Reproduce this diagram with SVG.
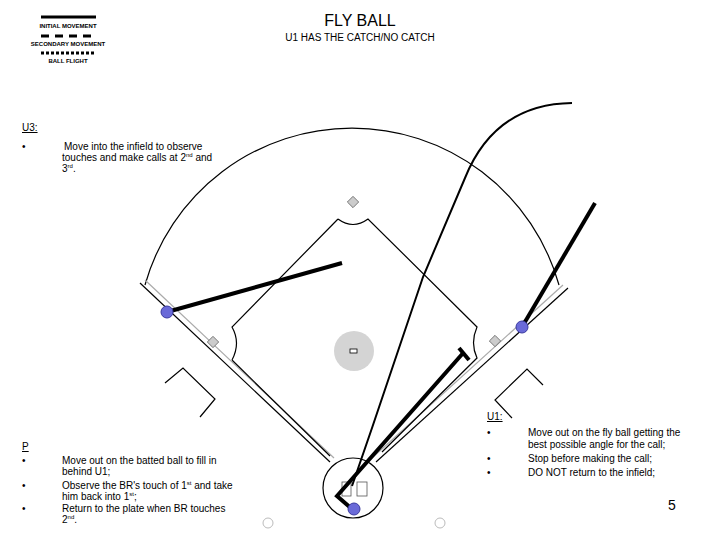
<svg xmlns="http://www.w3.org/2000/svg" width="720" height="540" viewBox="0 0 720 540">
<style>
text{font-family:"Liberation Sans",Arial,sans-serif;fill:#000}
.t{font-size:10px}
.lg{font-size:6px;font-weight:bold;text-anchor:middle}
.f{fill:none;stroke:#000;stroke-width:1.2}
.g{fill:none;stroke:#aaa;stroke-width:1.2}
.mv{fill:none;stroke:#000;stroke-width:4;stroke-linecap:butt}
.base{fill:#ccc;stroke:#666;stroke-width:0.8}
.ump{fill:#6a6ad8;stroke:#3a3aa0;stroke-width:1}
.ul{text-decoration:underline}
</style>
<g id="legend">
<line x1="41" y1="17" x2="96" y2="17" stroke="#000" stroke-width="3"/>
<text class="lg" x="68" y="28">INITIAL MOVEMENT</text>
<line x1="41" y1="36" x2="96" y2="36" stroke="#000" stroke-width="3" stroke-dasharray="8,6"/>
<text class="lg" x="68" y="46">SECONDARY MOVEMENT</text>
<line x1="41" y1="53" x2="96" y2="53" stroke="#000" stroke-width="3" stroke-dasharray="3,2"/>
<text class="lg" x="68" y="63">BALL FLIGHT</text>
</g>
<g id="title">
<text x="360" y="26" font-size="16" text-anchor="middle">FLY BALL</text>
<text x="360" y="41" class="t" text-anchor="middle">U1 HAS THE CATCH/NO CATCH</text>
</g>
<g id="field">
<path class="f" d="M145,285 A215,215 0 0 1 559,285"/>
<line class="f" x1="140" y1="283" x2="330" y2="462"/>
<line class="g" x1="145" y1="280" x2="334" y2="458"/>
<line class="f" x1="568" y1="288" x2="376" y2="462"/>
<line class="g" x1="563" y1="285" x2="372" y2="458"/>
<path class="f" d="M232,360 L330,456 M338,219 Q353,230 368,219 L477,327 Q470,343 477,358 L382,452 M338,219 L232,327 Q241,343 232,360"/>
<circle class="f" cx="353" cy="488" r="30"/>
<circle cx="354" cy="351" r="20" fill="#d4d4d4"/>
<rect x="350" y="349" width="7" height="4" fill="#fff" stroke="#000" stroke-width="0.8"/>
<rect class="base" x="349" y="198" width="8" height="8" transform="rotate(45 353 202)"/>
<rect class="base" x="209" y="338" width="8" height="8" transform="rotate(45 213 342)"/>
<rect class="base" x="491" y="337" width="8" height="8" transform="rotate(45 495 341)"/>
<rect x="342" y="482" width="9" height="14" fill="none" stroke="#555" stroke-width="0.8"/>
<rect x="357" y="482" width="10" height="14" fill="none" stroke="#555" stroke-width="0.8"/>
<polyline class="f" points="165,383 183,368 215,399 200,417"/>
<polyline class="f" points="543,385 527,369 495,400 512,418"/>
<circle cx="268" cy="523" r="5" fill="none" stroke="#bbb"/>
<circle cx="440" cy="523" r="5" fill="none" stroke="#bbb"/>
</g>
<g id="connectors">
<line class="mv" x1="167" y1="312" x2="342" y2="263"/>
<line class="mv" x1="522" y1="327" x2="595" y2="203"/>
<polyline class="mv" points="352,509 337,496 464,352"/>
<line class="mv" x1="459" y1="348" x2="469" y2="360"/>
<path d="M352,486 L372,428 L423,277 L465,178 Q495,104 572,103" fill="none" stroke="#000" stroke-width="2"/>
</g>
<g id="U3"><circle class="ump" cx="167" cy="312" r="6"/></g>
<g id="U1"><circle class="ump" cx="522" cy="327" r="6"/></g>
<g id="P"><circle class="ump" cx="354" cy="509" r="6"/></g>
<g id="notes" class="t">
<text x="22" y="131" class="ul">U3:</text>
<text x="22" y="150">•</text>
<text x="64" y="150">Move into the infield to observe</text>
<text x="62" y="161">touches and make calls at 2<tspan font-size="6" dy="-4">nd</tspan><tspan dy="4"> and</tspan></text>
<text x="62" y="172">3<tspan font-size="6" dy="-4">rd</tspan><tspan dy="4">.</tspan></text>
<text x="22" y="450" class="ul">P</text>
<text x="22" y="464">•</text>
<text x="62" y="464">Move out on the batted ball to fill in</text>
<text x="62" y="475">behind U1;</text>
<text x="22" y="489">•</text>
<text x="62" y="489">Observe the BR's touch of 1<tspan font-size="6" dy="-4">st</tspan><tspan dy="4"> and take</tspan></text>
<text x="62" y="500">him back into 1<tspan font-size="6" dy="-4">st</tspan><tspan dy="4">;</tspan></text>
<text x="22" y="512">•</text>
<text x="62" y="512">Return to the plate when BR touches</text>
<text x="62" y="523">2<tspan font-size="6" dy="-4">nd</tspan><tspan dy="4">.</tspan></text>
<text x="487" y="420" class="ul">U1:</text>
<text x="487" y="436">•</text>
<text x="528" y="436">Move out on the fly ball getting the</text>
<text x="528" y="448">best possible angle for the call;</text>
<text x="487" y="462">•</text>
<text x="528" y="462">Stop before making the call;</text>
<text x="487" y="476">•</text>
<text x="528" y="476">DO NOT return to the infield;</text>
<text x="668" y="510" font-size="14">5</text>
</g>
</svg>
